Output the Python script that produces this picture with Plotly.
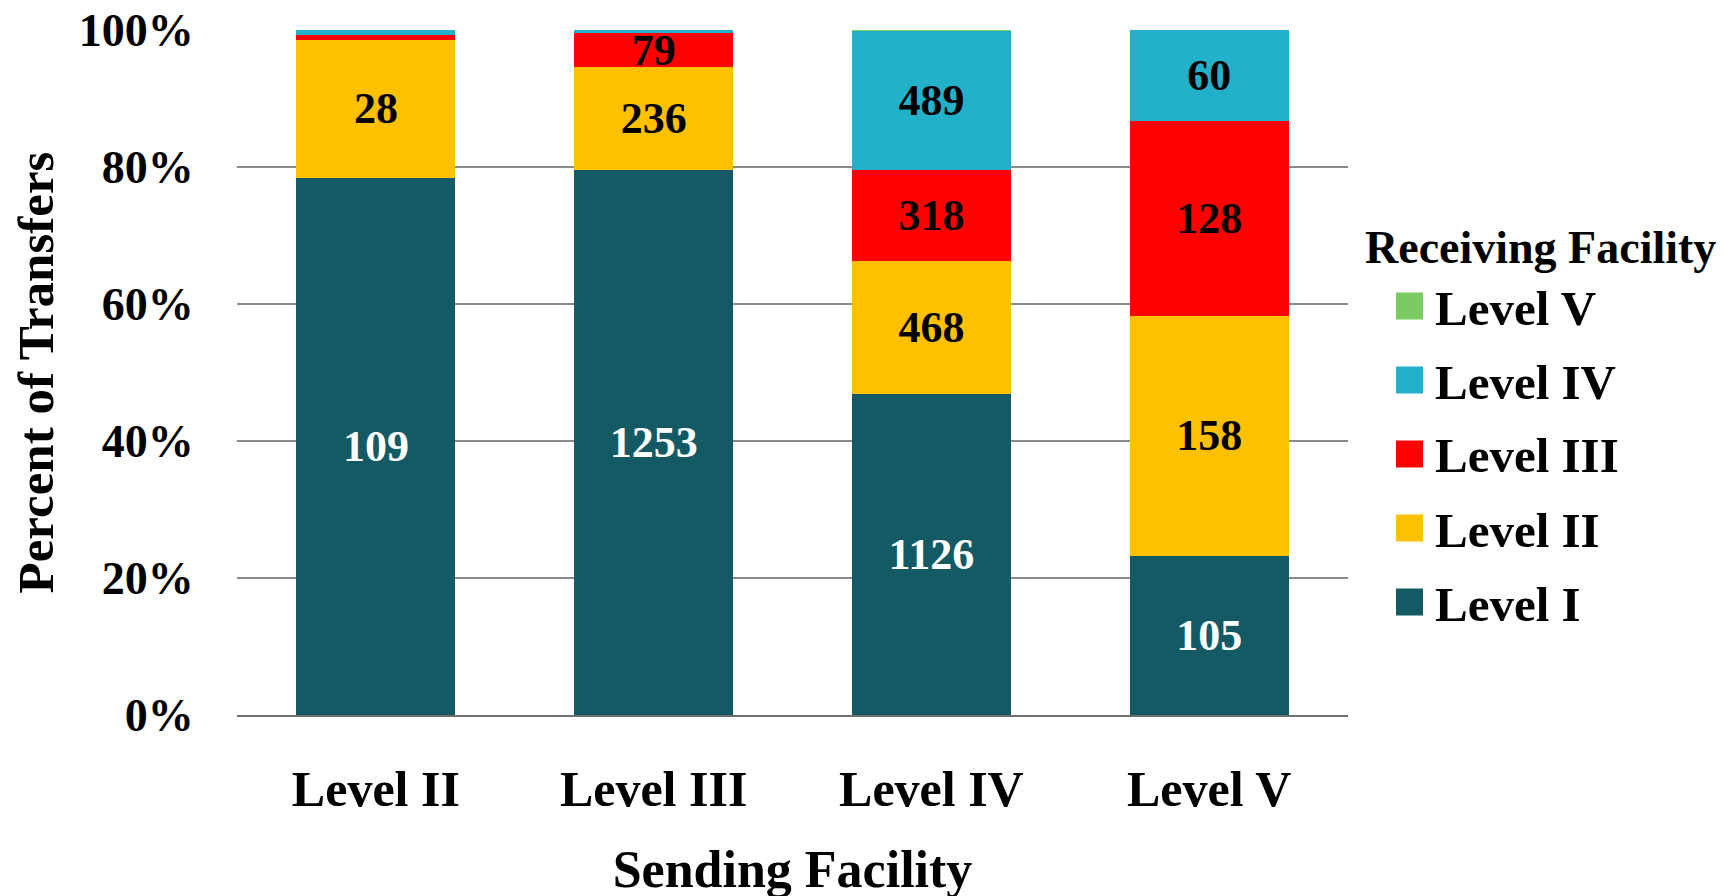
import plotly.graph_objects as go

# Sending facility categories (x axis)
sending = ["Level II", "Level III", "Level IV", "Level V"]

# Receiving facility counts (stacked segments)
recv_names = ["Level I", "Level II", "Level III", "Level IV", "Level V"]
level_I = [109, 1253, 1126, 105]
level_II = [28, 236, 468, 158]
level_III = [1, 79, 318, 128]
level_IV = [1, 7, 489, 60]
level_V = [0, 0, 3, 0]

series = [level_I, level_II, level_III, level_IV, level_V]
colors = ["#135A65", "#FFC000", "#FF0000", "#22B1C9", "#7CCB62"]
text_colors = ["white", "black", "black", "black", "black"]

FONT = "Liberation Serif"
totals = [sum(v) for v in zip(*series)]

# layout geometry (figure pixels)
W, H_FIG = 1726, 896
ML, MR, MT, MB = 229, 386, 22, 189
PW = W - ML - MR
PH = H_FIG - MT - MB
BODY = 8  # page offset of the figure


def px_to_paper_x(X):
    return (X - BODY - ML) / PW


def px_to_paper_y(Y):
    return (MT + PH - (Y - BODY)) / PH


fig = go.Figure()
for name, vals, col, tcol in zip(recv_names, series, colors, text_colors):
    labels = [str(v) if v / t >= 0.03 else "" for v, t in zip(vals, totals)]
    fig.add_trace(go.Bar(
        x=sending, y=vals, name=name,
        marker=dict(color=col, line=dict(width=0)),
        text=labels, textposition="inside", insidetextanchor="middle",
        textangle=0, constraintext="none",
        textfont=dict(family=FONT, size=44, color=tcol, weight="bold"),
        showlegend=False,
    ))

# Custom legend (large square swatches)
shapes = []
annotations = [dict(
    xref="paper", yref="paper", x=px_to_paper_x(1363), y=px_to_paper_y(247),
    xanchor="left", yanchor="middle", showarrow=False,
    text="Receiving Facility",
    font=dict(family=FONT, size=46, color="black", weight="bold"),
)]
for i, (name, col) in enumerate(zip(recv_names[::-1], colors[::-1])):
    yc = 306 + 74 * i
    half = 13.5
    shapes.append(dict(type="rect", xref="paper", yref="paper",
                       x0=px_to_paper_x(1396), x1=px_to_paper_x(1423),
                       y0=px_to_paper_y(yc + half), y1=px_to_paper_y(yc - half),
                       fillcolor=col, line=dict(width=0)))
    annotations.append(dict(
        xref="paper", yref="paper", x=px_to_paper_x(1433), y=px_to_paper_y(yc + 2),
        xanchor="left", yanchor="middle", showarrow=False,
        text=name,
        font=dict(family=FONT, size=49, color="black", weight="bold"),
    ))

fig.update_layout(
    barmode="stack", barnorm="percent", bargap=0.428,
    width=W, height=H_FIG,
    margin=dict(l=ML, r=MR, t=MT, b=MB, autoexpand=False),
    paper_bgcolor="white", plot_bgcolor="white",
    font=dict(family=FONT, color="black"),
    shapes=shapes, annotations=annotations,
    showlegend=False,
)
fig.update_yaxes(
    automargin=False,
    range=[0, 100], dtick=20, ticksuffix="%",
    ticklabeloverflow="allow",
    showgrid=True, gridcolor="#8a8a8a", gridwidth=1.5,
    zeroline=False, showline=False,
    ticks="outside", ticklen=33, tickcolor="rgba(0,0,0,0)",
    tickfont=dict(family=FONT, size=46, color="black", weight="bold"),
    title=dict(text="Percent of Transfers", standoff=34,
               font=dict(family=FONT, size=51, color="black", weight="bold")),
)
fig.update_xaxes(
    automargin=False,
    showline=True, linecolor="#6f6f6f", linewidth=2,
    ticklabeloverflow="allow",
    ticks="outside", ticklen=29, tickcolor="rgba(0,0,0,0)",
    tickfont=dict(family=FONT, size=50, color="black", weight="bold"),
    title=dict(text="Sending Facility", standoff=35,
               font=dict(family=FONT, size=52, color="black", weight="bold")),
)

fig.write_html("out.html")
